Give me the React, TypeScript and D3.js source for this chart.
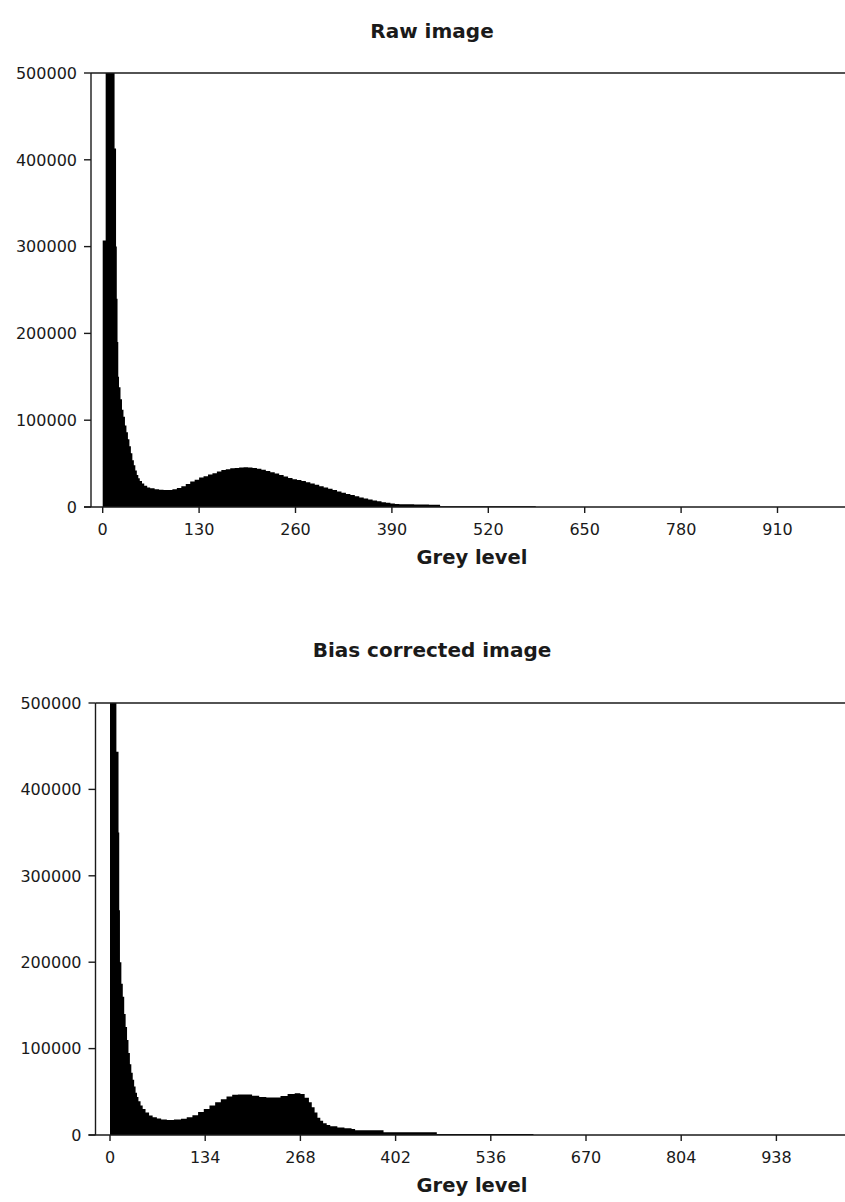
import React from "react";
import * as d3 from "d3";

// ---------- DATA ----------
const yTicks = [0, 100000, 200000, 300000, 400000, 500000];

const rawTitle = "Raw image";
const rawXTicks = [0, 130, 260, 390, 520, 650, 780, 910];
// bin start grey levels and counts (bin ends at the next start)
const rawBinStart = [
  0, 4, 16, 18, 19, 20, 21, 22, 24, 26, 28, 30, 32, 34, 36, 38, 40, 42, 44, 46, 48, 50,
  53, 56, 60, 64, 70, 76, 82, 88, 94, 100, 106, 112, 118, 124, 130, 136, 142, 148, 154,
  160, 166, 172, 178, 184, 190, 196, 202, 208, 214, 220, 226, 232, 238, 244, 250, 256,
  262, 268, 274, 280, 286, 292, 298, 304, 310, 316, 322, 328, 334, 340, 346, 352, 358,
  364, 370, 376, 382, 388, 394, 400, 420, 440, 455, 584,
];
const rawCount = [
  307000, 620000, 413000, 300000, 240000, 190000, 150000, 138000, 124000, 112000, 104000,
  94000, 86000, 78000, 70000, 62000, 54000, 48000, 42000, 37000, 33000, 30000, 27000,
  24500, 22500, 21500, 20500, 19800, 19500, 19600, 20500, 22000, 24000, 26500, 29500,
  31500, 34000, 35500, 37500, 39000, 41000, 42500, 43500, 44500, 45000, 45500, 45700,
  45500, 45000, 44000, 43000, 41500, 40000, 38500, 37000, 35000, 33500, 32000, 31000,
  30000, 28500, 27000, 25500, 24000, 22500, 21000, 19500, 18000, 16500, 15000, 13800,
  12500, 11000, 9800, 8500, 7500, 6500, 5500, 4800, 4000, 3500, 3200, 2800, 2500, 1000,
];

const corTitle = "Bias corrected image";
const corXTicks = [0, 134, 268, 402, 536, 670, 804, 938];
const corBinStart = [
  0, 9, 12, 13, 14, 16, 18, 20, 22, 24, 26, 28, 30, 32, 34, 36, 38, 40, 43, 46, 50, 55,
  60, 66, 72, 80, 90, 100, 108, 116, 124, 132, 140, 148, 156, 164, 172, 180, 190, 200,
  210, 220, 230, 240, 250, 260, 268, 274, 280, 284, 288, 292, 296, 300, 305, 310, 320,
  330, 340, 345, 385, 460, 596,
];
const corCount = [
  800000, 443600, 350000, 260000, 200000, 175000, 160000, 140000, 125000, 110000, 95000,
  82000, 72000, 64000, 56000, 49000, 44000, 39000, 34000, 30000, 26000, 22500, 20500,
  19000, 18000, 17500, 17800, 18800, 20500, 23000, 26500, 30000, 34000, 38000, 41500,
  44500, 46500, 47000, 46800, 45500, 44000, 43500, 43500, 45000, 47500, 48300, 47500,
  43000, 38000, 32000, 26000, 20000, 16500, 13500, 11500, 10000, 8800, 7800, 7000, 5500,
  3200, 1300,
];

const xLabel = "Grey level";

// ---------- COMPONENT ----------
type PanelProps = {
  title: string;
  titleY: number;
  top: number;
  bottom: number;
  axisX: number;
  zeroX: number;
  pxPerUnit: number;
  xTicks: number[];
  binStart: number[];
  counts: number[];
  labelY: number;
  id: string;
};

const W = 845;
const H = 1202;
const FONT = "'DejaVu Sans', Verdana, sans-serif";
const INK = "#1a1a1a";

function Panel(p: PanelProps) {
  const domainMax = (W + 40 - p.zeroX) / p.pxPerUnit;
  const x = d3.scaleLinear().domain([0, domainMax]).range([p.zeroX, W + 40]);
  const y = d3.scaleLinear().domain([0, 500000]).range([p.bottom, p.top]);
  const pts = p.counts.map((v, i) => ({ g: p.binStart[i], v }));
  pts.push({ g: p.binStart[p.binStart.length - 1], v: p.counts[p.counts.length - 1] });
  const area = d3
    .area<{ g: number; v: number }>()
    .x((d) => x(d.g))
    .y0(p.bottom)
    .y1((d) => y(d.v))
    .curve(d3.curveStepAfter);
  return (
    <g>
      <text
        x={432}
        y={p.titleY}
        textAnchor="middle"
        fontFamily={FONT}
        fontWeight="bold"
        fontSize={20}
        fill={INK}
      >
        {p.title}
      </text>
      <defs>
        <clipPath id={p.id}>
          <rect x={p.axisX} y={p.top} width={W} height={p.bottom - p.top} />
        </clipPath>
      </defs>
      <g clipPath={`url(#${p.id})`}>
        <path d={area(pts) || ""} fill="#000" />
      </g>
      {/* frame */}
      <line x1={p.axisX} x2={W} y1={p.top} y2={p.top} stroke={INK} strokeWidth={1.6} />
      <line x1={p.axisX} x2={p.axisX} y1={p.top} y2={p.bottom} stroke={INK} strokeWidth={1.4} />
      <line x1={p.axisX - 7} x2={W} y1={p.bottom} y2={p.bottom} stroke={INK} strokeWidth={1.4} />
      {/* y ticks */}
      {yTicks.map((t) => (
        <g key={t}>
          <line x1={p.axisX - 7} x2={p.axisX} y1={y(t)} y2={y(t)} stroke={INK} strokeWidth={1.4} />
          <text
            x={p.axisX - 14}
            y={y(t)}
            dy="0.36em"
            textAnchor="end"
            fontFamily={FONT}
            fontSize={16}
            fill={INK}
          >
            {t}
          </text>
        </g>
      ))}
      {/* x ticks */}
      {p.xTicks.map((t) => (
        <g key={t}>
          <line x1={x(t)} x2={x(t)} y1={p.bottom} y2={p.bottom + 6} stroke={INK} strokeWidth={1.4} />
          <text
            x={x(t)}
            y={p.bottom + 28}
            textAnchor="middle"
            fontFamily={FONT}
            fontSize={16}
            fill={INK}
          >
            {t}
          </text>
        </g>
      ))}
      <text
        x={472}
        y={p.labelY}
        textAnchor="middle"
        fontFamily={FONT}
        fontWeight="bold"
        fontSize={19.5}
        fill={INK}
      >
        {xLabel}
      </text>
    </g>
  );
}

export default function App() {
  return (
    <svg
      width={W}
      height={H}
      style={{ position: "absolute", left: 0, top: 0, background: "#fff" }}
    >
      <rect width={W} height={H} fill="#fff" />
      <Panel
        id="clipRaw"
        title={rawTitle}
        titleY={38}
        top={73}
        bottom={507}
        axisX={91}
        zeroX={102.7}
        pxPerUnit={96.4 / 130}
        xTicks={rawXTicks}
        binStart={rawBinStart}
        counts={rawCount}
        labelY={564}
      />
      <Panel
        id="clipCor"
        title={corTitle}
        titleY={657}
        top={703}
        bottom={1135}
        axisX={95.5}
        zeroX={110}
        pxPerUnit={95.2 / 134}
        xTicks={corXTicks}
        binStart={corBinStart}
        counts={corCount}
        labelY={1192}
      />
    </svg>
  );
}
